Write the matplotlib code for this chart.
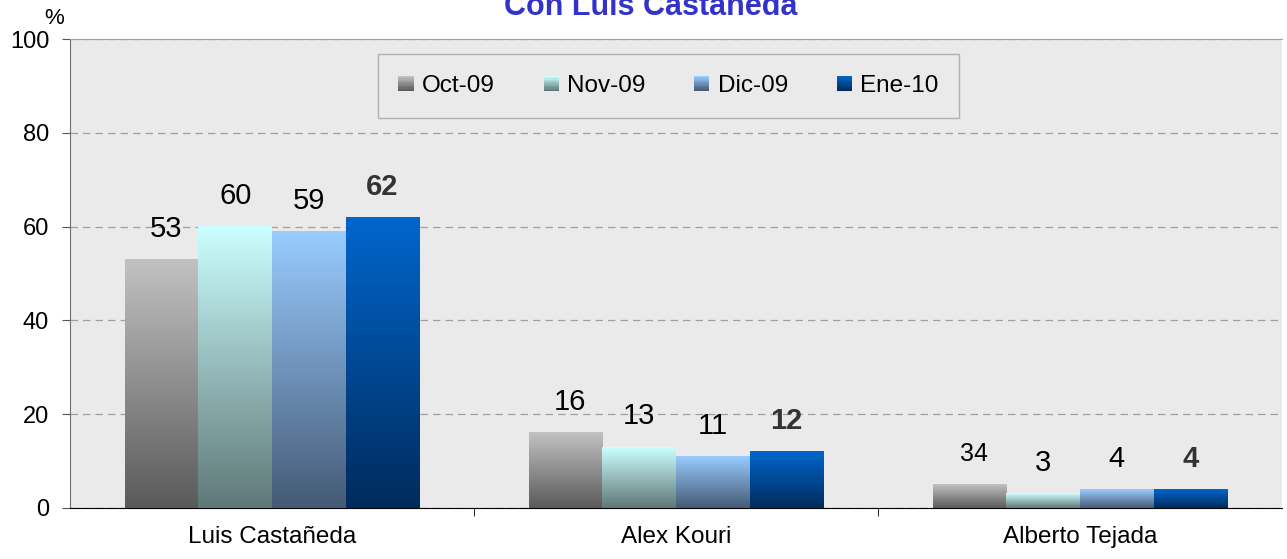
import matplotlib.pyplot as plt
import numpy as np
from matplotlib.colors import LinearSegmentedColormap
from matplotlib.legend_handler import HandlerBase
from matplotlib.patches import Rectangle

plt.rcParams['font.family'] = ['Liberation Sans', 'DejaVu Sans']

categories = ["Luis Castañeda", "Alex Kouri", "Alberto Tejada"]
series_names = ["Oct-09", "Nov-09", "Dic-09", "Ene-10"]
oct_09 = [53, 16, 5]
nov_09 = [60, 13, 3]
dic_09 = [59, 11, 4]
ene_10 = [62, 12, 4]
label_texts = [["53", "16", "34"], ["60", "13", "3"], ["59", "11", "4"], ["62", "12", "4"]]
yticks = [0, 20, 40, 60, 80, 100]

# gradient colours: (top, bottom)
gradients = [("#C2C2C2", "#5A5A5A"), ("#CCFFFF", "#5F7877"),
             ("#99CCFF", "#455A75"), ("#0066CC", "#002B5C")]


class GradientHandler(HandlerBase):
    def __init__(self, top, bottom):
        super().__init__()
        self.cmap = LinearSegmentedColormap.from_list("g", [bottom, top])

    def create_artists(self, legend, orig_handle, xdescent, ydescent, width, height, fontsize, trans):
        side = min(width, height)
        x0 = -xdescent + width - side
        y0 = -ydescent + (height - side) / 2
        n = 12
        artists = []
        for i in range(n):
            r = Rectangle((x0, y0 + side * i / n), side, side / n + 0.2,
                          facecolor=self.cmap(i / (n - 1)), edgecolor="none", transform=trans)
            artists.append(r)
        return artists


def main():
    fig = plt.figure(figsize=(12.87, 5.59), dpi=100)
    ax = fig.add_axes([70 / 1287, 51 / 559, 1212 / 1287, 469 / 559])
    ax.set_facecolor("#EAEAEA")

    x = np.arange(len(categories))
    width = 0.182
    all_series = [oct_09, nov_09, dic_09, ene_10]
    handles = []
    for i, vals in enumerate(all_series):
        pos = x + (i - 1.5) * width
        bars = ax.bar(pos, vals, width, color="none", edgecolor="none", zorder=3)
        handles.append(bars)
        top, bottom = gradients[i]
        cmap = LinearSegmentedColormap.from_list("g%d" % i, [bottom, top])
        grad = np.linspace(0, 1, 256).reshape(-1, 1)
        for b in bars:
            bx, by = b.get_x(), b.get_y()
            bw, bh = b.get_width(), b.get_height()
            ax.imshow(grad, cmap=cmap, origin="lower", aspect="auto",
                      extent=(bx, bx + bw, by, by + bh), zorder=3)
        for j, (p, v) in enumerate(zip(pos, vals)):
            txt = label_texts[i][j]
            bold = i == 3
            size = 18 if txt == "34" else 21
            ax.annotate(txt, (p, v), xytext=(3 if i == 0 else 0, 22), textcoords="offset points",
                        ha="center", va="center", fontsize=size,
                        fontweight="bold" if bold else "normal",
                        color="#333333" if bold else "black", zorder=4)

    ax.set_xlim(-0.5, len(categories) - 0.5)
    ax.set_ylim(0, 100)
    ax.set_yticks(yticks)
    ax.set_yticklabels([str(t) for t in yticks], fontsize=17)
    ax.set_xticks(x)
    ax.set_xticklabels(categories, fontsize=17.5)
    ax.tick_params(axis="x", length=0, pad=13)
    ax.set_xticks([0.5, 1.5], minor=True)
    ax.tick_params(axis="x", which="minor", length=6, direction="out")
    ax.tick_params(axis="y", length=6, direction="out", pad=9, color="#555555")

    ax.yaxis.grid(True, linestyle=(0, (6, 4)), color="#A0A0A0", linewidth=0.9, zorder=1)
    ax.set_axisbelow(True)
    ax.spines["right"].set_visible(False)
    ax.spines["top"].set_color("#A0A0A0")
    ax.spines["left"].set_color("#707070")
    ax.spines["bottom"].set_color("black")

    handler_map = {h: GradientHandler(*gradients[i]) for i, h in enumerate(handles)}
    leg = ax.legend(handles, series_names, handler_map=handler_map, loc="center",
                    bbox_to_anchor=(0.4938, 0.8998), ncol=4, fontsize=17.5, frameon=True,
                    fancybox=False, edgecolor="#B0B0B0", facecolor="#EAEAEA", framealpha=1,
                    handlelength=0.62, handletextpad=0.35, columnspacing=2.0,
                    borderpad=0.85, borderaxespad=0)
    leg.get_frame().set_linewidth(1.0)
    leg.set_zorder(5)

    fig.text(54 / 1287, 1 - 19 / 559, "%", fontsize=16, ha="center", va="center")
    fig.text(651 / 1287, 1 - 15 / 559, "Con Luis Castañeda", fontsize=22, fontweight="bold",
             color="#3333CC", ha="center", va="baseline")

    fig.savefig("out.png", dpi=100)


if __name__ == '__main__':
    main()
